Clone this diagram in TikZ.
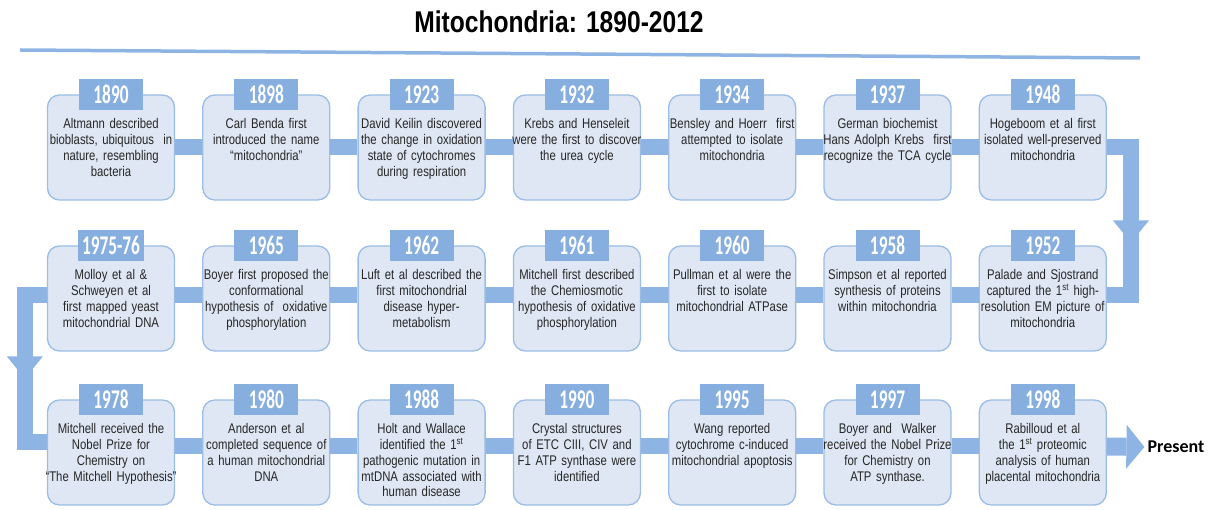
\documentclass[tikz,border=0pt]{standalone}
\usepackage{fontspec}
\setmainfont{Liberation Sans}[FakeStretch=0.81]
\newfontfamily\yearfont{Carlito}[FakeStretch=0.64]
\newfontfamily\titlefont{Liberation Sans}[FakeStretch=0.82]
\newfontfamily\presentfont{Carlito}
\usepackage{tikz}
\usetikzlibrary{arrows.meta, decorations.markings}

\definecolor{boxfill}{HTML}{DEE7F3}
\definecolor{boxedge}{HTML}{9BBCE5}
\definecolor{tabblue}{HTML}{86AEDF}
\definecolor{linkblue}{HTML}{8DB4E2}
\definecolor{textgray}{HTML}{262626}

\tikzset{
  evbox/.style={rectangle, rounded corners=12pt, draw=boxedge, line width=1.3pt,
    fill=boxfill, minimum width=127pt, minimum height=105pt},
  yeartab/.style={rectangle, fill=tabblue, minimum width=64pt, minimum height=31pt,
    inner sep=0pt, inner xsep=4pt, text=white,
    font=\yearfont\bfseries\fontsize{27}{27}\selectfont},
  evtext/.style={anchor=north, inner sep=0pt, text width=134pt, align=center,
    text=textgray, font=\fontsize{14}{15.8}\selectfont},
  link/.style={draw=linkblue, line width=16pt},
  turn/.style={link, postaction={decorate}, decoration={markings,
    mark=at position #1 with {\arrow[linkblue]{Triangle[width=36pt,length=22pt,line width=0pt]}}}}
}

\begin{document}
\begin{tikzpicture}[x=1pt, y=-1pt]
  \useasboundingbox (0,0) rectangle (1211,510);

  % title and rule
  \node[font=\titlefont\bfseries\fontsize{30}{30}\selectfont, text=black] (title) at (559,22) {Mitochondria: 1890-2012};
  \coordinate (ruleL) at (20,50);
  \coordinate (ruleR) at (1140,58);
  \draw[linkblue, line width=3.5pt] (ruleL) -- (ruleR);

  % first row, left to right
  \node[evbox] (e1) at (111,147.5) {};
  \node[yeartab] (y1) at (e1.north) {1890};
  \node[evtext] (t1) at ([yshift=-24pt]e1.north) {Altmann described\\bioblasts, ubiquitous\ \ in\\nature, resembling\\bacteria};

  \node[evbox] (e2) at (266.3,147.5) {};
  \node[yeartab] (y2) at (e2.north) {1898};
  \node[evtext] (t2) at ([yshift=-24pt]e2.north) {Carl Benda first\\introduced the name\\“mitochondria”};

  \node[evbox] (e3) at (421.6,147.5) {};
  \node[yeartab] (y3) at (e3.north) {1923};
  \node[evtext] (t3) at ([yshift=-24pt]e3.north) {David Keilin discovered\\the change in oxidation\\state of cytochromes\\during respiration};

  \node[evbox] (e4) at (576.9,147.5) {};
  \node[yeartab] (y4) at (e4.north) {1932};
  \node[evtext] (t4) at ([yshift=-24pt]e4.north) {Krebs and Henseleit\\were the first to discover\\the urea cycle};

  \node[evbox] (e5) at (732.2,147.5) {};
  \node[yeartab] (y5) at (e5.north) {1934};
  \node[evtext] (t5) at ([yshift=-24pt]e5.north) {Bensley and Hoerr\ \ first\\attempted to isolate\\mitochondria};

  \node[evbox] (e6) at (887.5,147.5) {};
  \node[yeartab] (y6) at (e6.north) {1937};
  \node[evtext] (t6) at ([yshift=-24pt]e6.north) {German biochemist\\Hans Adolph Krebs\ \ first\\recognize the TCA cycle};

  \node[evbox] (e7) at (1042.8,147.5) {};
  \node[yeartab] (y7) at (e7.north) {1948};
  \node[evtext] (t7) at ([yshift=-24pt]e7.north) {Hogeboom et al first\\isolated well-preserved\\mitochondria};

  % second row, right to left
  \node[evbox] (e8) at (1042.8,298.5) {};
  \node[yeartab] (y8) at (e8.north) {1952};
  \node[evtext] (t8) at ([yshift=-24pt]e8.north) {Palade and Sjostrand\\captured the 1\textsuperscript{st} high-\\resolution EM picture of\\mitochondria};

  \node[evbox] (e9) at (887.5,298.5) {};
  \node[yeartab] (y9) at (e9.north) {1958};
  \node[evtext] (t9) at ([yshift=-24pt]e9.north) {Simpson et al reported\\synthesis of proteins\\within mitochondria};

  \node[evbox] (e10) at (732.2,298.5) {};
  \node[yeartab] (y10) at (e10.north) {1960};
  \node[evtext] (t10) at ([yshift=-24pt]e10.north) {Pullman et al were the\\first to isolate\\mitochondrial ATPase};

  \node[evbox] (e11) at (576.9,298.5) {};
  \node[yeartab] (y11) at (e11.north) {1961};
  \node[evtext] (t11) at ([yshift=-24pt]e11.north) {Mitchell first described\\the Chemiosmotic\\hypothesis of oxidative\\phosphorylation};

  \node[evbox] (e12) at (421.6,298.5) {};
  \node[yeartab] (y12) at (e12.north) {1962};
  \node[evtext] (t12) at ([yshift=-24pt]e12.north) {Luft et al described the\\first mitochondrial\\disease hyper-\\metabolism};

  \node[evbox] (e13) at (266.3,298.5) {};
  \node[yeartab] (y13) at (e13.north) {1965};
  \node[evtext] (t13) at ([yshift=-24pt]e13.north) {Boyer first proposed the\\conformational\\hypothesis of\ \ oxidative\\phosphorylation};

  \node[evbox] (e14) at (111,298.5) {};
  \node[yeartab] (y14) at (e14.north) {1975-76};
  \node[evtext] (t14) at ([yshift=-24pt]e14.north) {Molloy et al \&\\Schweyen et al\\first mapped yeast\\mitochondrial DNA};

  % third row, left to right
  \node[evbox] (e15) at (111,452.5) {};
  \node[yeartab] (y15) at (e15.north) {1978};
  \node[evtext] (t15) at ([yshift=-24pt]e15.north) {Mitchell received the\\Nobel Prize for\\Chemistry on\\“The Mitchell Hypothesis”};

  \node[evbox] (e16) at (266.3,452.5) {};
  \node[yeartab] (y16) at (e16.north) {1980};
  \node[evtext] (t16) at ([yshift=-24pt]e16.north) {Anderson et al\\completed sequence of\\a human mitochondrial\\DNA};

  \node[evbox] (e17) at (421.6,452.5) {};
  \node[yeartab] (y17) at (e17.north) {1988};
  \node[evtext] (t17) at ([yshift=-24pt]e17.north) {Holt and Wallace\\identified the 1\textsuperscript{st}\\pathogenic mutation in\\mtDNA associated with\\human disease};

  \node[evbox] (e18) at (576.9,452.5) {};
  \node[yeartab] (y18) at (e18.north) {1990};
  \node[evtext] (t18) at ([yshift=-24pt]e18.north) {Crystal structures\\of ETC CIII, CIV and\\F1 ATP synthase were\\identified};

  \node[evbox] (e19) at (732.2,452.5) {};
  \node[yeartab] (y19) at (e19.north) {1995};
  \node[evtext] (t19) at ([yshift=-24pt]e19.north) {Wang reported\\cytochrome c-induced\\mitochondrial apoptosis};

  \node[evbox] (e20) at (887.5,452.5) {};
  \node[yeartab] (y20) at (e20.north) {1997};
  \node[evtext] (t20) at ([yshift=-24pt]e20.north) {Boyer and\ \ Walker\\received the Nobel Prize\\for Chemistry on\\ATP synthase.};

  \node[evbox] (e21) at (1042.8,452.5) {};
  \node[yeartab] (y21) at (e21.north) {1998};
  \node[evtext] (t21) at ([yshift=-24pt]e21.north) {Rabilloud et al\\the 1\textsuperscript{st} proteomic\\analysis of human\\placental mitochondria};

  \node[font=\presentfont\bfseries\fontsize{18}{18}\selectfont, text=black, inner sep=3pt] (present) at (1176,447) {Present};

  % links
  \draw[link] (e1.east) -- (e2.west);
  \draw[link] (e2.east) -- (e3.west);
  \draw[link] (e3.east) -- (e4.west);
  \draw[link] (e4.east) -- (e5.west);
  \draw[link] (e5.east) -- (e6.west);
  \draw[link] (e6.east) -- (e7.west);
  \draw[turn=119pt] (e7.east) -- ++(24,0) |- ([yshift=3pt]e8.east);
  \draw[link] ([yshift=3pt]e8.west) -- ([yshift=3pt]e9.east);
  \draw[link] ([yshift=3pt]e9.west) -- ([yshift=3pt]e10.east);
  \draw[link] ([yshift=3pt]e10.west) -- ([yshift=3pt]e11.east);
  \draw[link] ([yshift=3pt]e11.west) -- ([yshift=3pt]e12.east);
  \draw[link] ([yshift=3pt]e12.west) -- ([yshift=3pt]e13.east);
  \draw[link] ([yshift=3pt]e13.west) -- ([yshift=3pt]e14.east);
  \draw[turn=105pt] ([yshift=3pt]e14.west) -- ++(-22,0) |- ([yshift=10pt]e15.west);
  \draw[link] ([yshift=6pt]e15.east) -- ([yshift=6pt]e16.west);
  \draw[link] ([yshift=6pt]e16.east) -- ([yshift=6pt]e17.west);
  \draw[link] ([yshift=6pt]e17.east) -- ([yshift=6pt]e18.west);
  \draw[link] ([yshift=6pt]e18.east) -- ([yshift=6pt]e19.west);
  \draw[link] ([yshift=6pt]e19.east) -- ([yshift=6pt]e20.west);
  \draw[link] ([yshift=6pt]e20.east) -- ([yshift=6pt]e21.west);
  \draw[link, line width=18pt, -{Triangle[width=44pt,length=18pt,line width=0pt]}] ([yshift=6pt]e21.east) -- (present.west);
\end{tikzpicture}
\end{document}
